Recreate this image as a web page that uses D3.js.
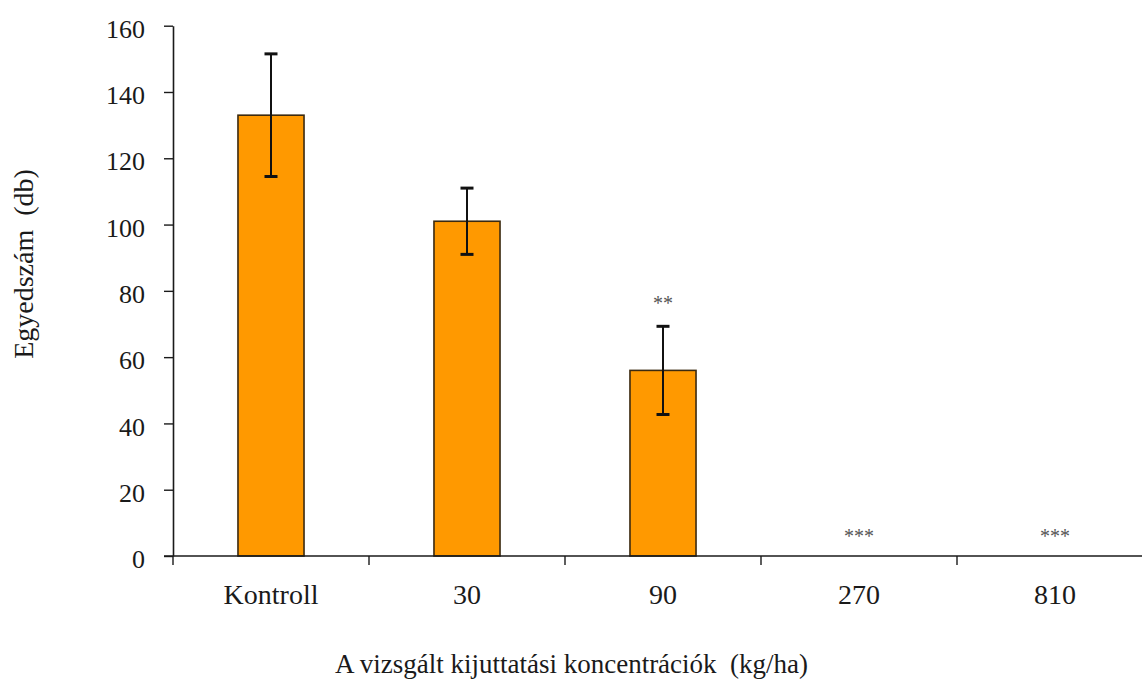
<!DOCTYPE html>
<html>
<head>
<meta charset="utf-8">
<script src="https://cdn.jsdelivr.net/npm/d3@7"></script>
<style>
  html, body { margin: 0; padding: 0; background: #fff; }
  svg { display: block; }
  text { font-family: "Liberation Serif", "Times New Roman", "DejaVu Serif", serif; fill: #1a1a1a; }
</style>
</head>
<body>
<svg id="chart" width="1142" height="686"></svg>
<script>
const categories = ["Kontroll", "30", "90", "270", "810"];
const means = [133, 101, 56, 0, 0];
const errors = [18.5, 10, 13.3, 0, 0];
const significance = ["", "", "**", "***", "***"];
const yTicks = [0, 20, 40, 60, 80, 100, 120, 140, 160];
const xTitle = "A vizsgált kijuttatási koncentrációk  (kg/ha)";
const yTitle = "Egyedszám  (db)";

const svg = d3.select("#chart");
const plotLeft = 173, plotRight = 1153, plotTop = 25.7, plotBottom = 556;

const x = d3.scaleBand().domain(categories).range([plotLeft, plotRight])
  .paddingInner(0.663).paddingOuter(0.3315);
const y = d3.scaleLinear().domain([0, 160]).range([plotBottom, plotTop]);

const data = categories.map((c, i) => ({ c, v: means[i], e: errors[i], s: significance[i] }));

// Bars
svg.append("g").selectAll("rect").data(data.filter(d => d.v > 0)).join("rect")
  .attr("x", d => x(d.c))
  .attr("y", d => y(d.v))
  .attr("width", x.bandwidth())
  .attr("height", d => y(0) - y(d.v))
  .attr("fill", "#FF9900")
  .attr("stroke", "#3b2a10")
  .attr("stroke-width", 1.6);

// Error bars
const capW = 13;
const eg = svg.append("g").selectAll("g").data(data.filter(d => d.e > 0)).join("g");
eg.append("line")
  .attr("x1", d => x(d.c) + x.bandwidth() / 2).attr("x2", d => x(d.c) + x.bandwidth() / 2)
  .attr("y1", d => y(d.v + d.e)).attr("y2", d => y(d.v - d.e))
  .attr("stroke", "#111").attr("stroke-width", 2);
eg.selectAll("line.cap").data(d => [{ d, val: d.v + d.e }, { d, val: d.v - d.e }]).join("line")
  .attr("class", "cap")
  .attr("x1", o => x(o.d.c) + x.bandwidth() / 2 - capW / 2)
  .attr("x2", o => x(o.d.c) + x.bandwidth() / 2 + capW / 2)
  .attr("y1", o => y(o.val)).attr("y2", o => y(o.val))
  .attr("stroke", "#111").attr("stroke-width", 3);

// Significance stars
svg.append("g").selectAll("text").data(data.filter(d => d.s)).join("text")
  .attr("x", d => x(d.c) + x.bandwidth() / 2)
  .attr("y", d => y(d.v + d.e) - (d.e > 0 ? 16 : 13))
  .attr("text-anchor", "middle")
  .attr("font-size", 20)
  .style("fill", "#555")
  .text(d => d.s);

// Y axis
const yAxis = svg.append("g").attr("transform", `translate(${plotLeft},0)`)
  .call(d3.axisLeft(y).tickValues(yTicks).tickSize(9).tickPadding(19).tickSizeOuter(0));
yAxis.select(".domain").attr("stroke", "#1a1a1a").attr("stroke-width", 1.6);
yAxis.selectAll(".tick line").attr("stroke", "#1a1a1a").attr("stroke-width", 1.4);
yAxis.selectAll(".tick text").attr("font-size", 26).attr("dy", "0.45em")
  .style("font-family", '"Liberation Serif", "Times New Roman", serif').style("fill", "#1a1a1a");

// X axis
const xAxis = svg.append("g").attr("transform", `translate(0,${plotBottom})`)
  .call(d3.axisBottom(x).tickSize(0).tickPadding(0));
xAxis.select(".domain").remove();
xAxis.append("line").attr("x1", plotLeft - 9).attr("x2", plotRight).attr("y1", 0).attr("y2", 0)
  .attr("stroke", "#1a1a1a").attr("stroke-width", 1.6);
xAxis.selectAll(".tick text").attr("y", 48).attr("dy", 0).attr("font-size", 28)
  .style("font-family", '"Liberation Serif", "Times New Roman", serif').style("fill", "#1a1a1a");
const boundaries = d3.range(categories.length + 1).map(i => x.range()[0] + i * x.step());
xAxis.selectAll("line.bt").data(boundaries).join("line").attr("class", "bt")
  .attr("x1", d => d).attr("x2", d => d).attr("y1", 0).attr("y2", 9)
  .attr("stroke", "#1a1a1a").attr("stroke-width", 1.4);

// Titles
svg.append("text").attr("x", 571.5).attr("y", 673).attr("text-anchor", "middle")
  .attr("font-size", 27).style("white-space", "pre").attr("xml:space", "preserve").text(xTitle);
svg.append("text").attr("transform", "translate(33,264) rotate(-90)").attr("text-anchor", "middle")
  .attr("font-size", 28).style("white-space", "pre").attr("xml:space", "preserve").text(yTitle);
</script>
</body>
</html>
